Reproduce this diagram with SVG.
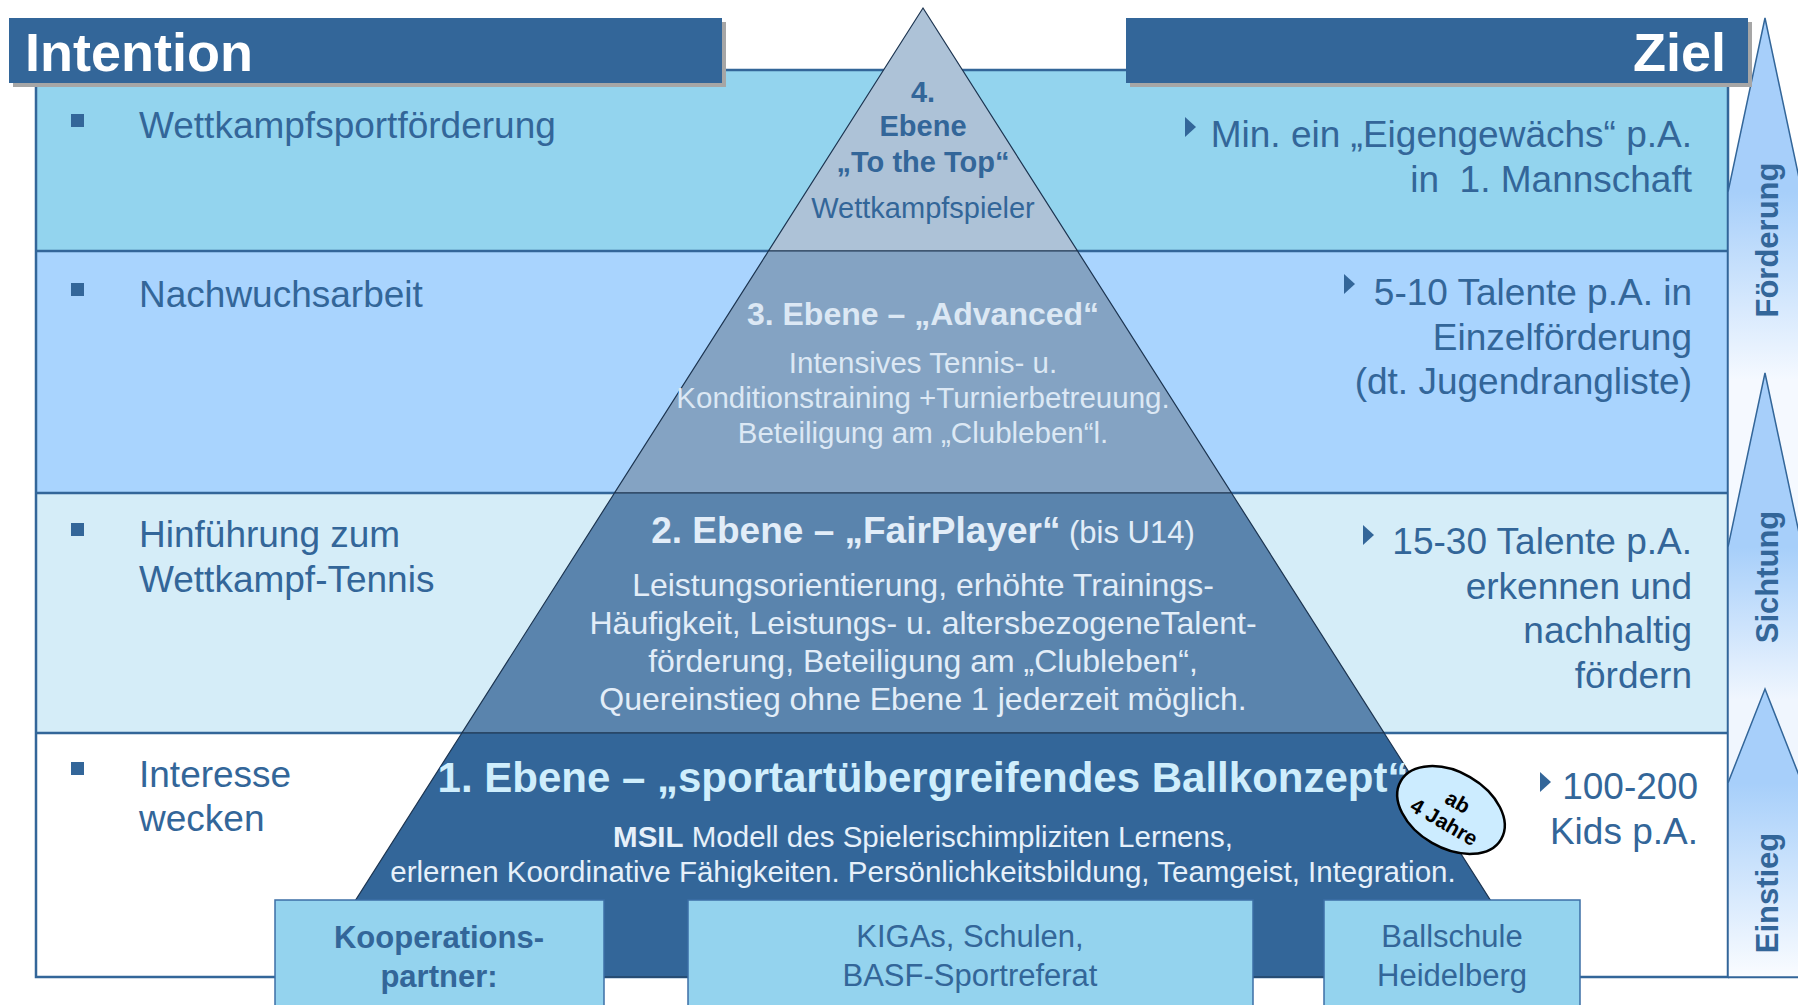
<svg xmlns="http://www.w3.org/2000/svg" width="1798" height="1005" viewBox="0 0 1798 1005">
<style>
text{font-family:"Liberation Sans",Arial,sans-serif}
.lt{font-size:37px;fill:#336699}
.rt{font-size:37px;fill:#336699;text-anchor:end}
.hd{font-size:54px;font-weight:bold;fill:#ffffff}
.c{text-anchor:middle}
.b{font-weight:bold}
.bul{fill:#336699}
.mk{fill:#336699}
.rowline{stroke:#336699;stroke-width:2.5;fill:none}
.pyr{stroke:#1c3450;stroke-width:1.2}
.box{fill:#94D3EE;stroke:#3d6fa6;stroke-width:1.5}
.bx{font-size:31px;fill:#336699;text-anchor:middle}
.arr{stroke:#336699;stroke-width:1.5}
.at{font-size:31px;font-weight:bold;fill:#336699;text-anchor:middle}
</style>
<defs>
<linearGradient id="g1" gradientUnits="userSpaceOnUse" x1="0" y1="192" x2="0" y2="380"><stop offset="0" stop-color="#A7CFFA"/><stop offset="1" stop-color="#F5F9FF"/></linearGradient>
<linearGradient id="g2" gradientUnits="userSpaceOnUse" x1="0" y1="547" x2="0" y2="700"><stop offset="0" stop-color="#A7CFFA"/><stop offset="1" stop-color="#F0F6FE"/></linearGradient>
<linearGradient id="g3" gradientUnits="userSpaceOnUse" x1="0" y1="783" x2="0" y2="977"><stop offset="0" stop-color="#A7CFFA"/><stop offset="1" stop-color="#FAFCFF"/></linearGradient>
</defs>

<g id="rows">
<rect x="36" y="70" width="1692" height="181" fill="#93D4EE"/>
<rect x="36" y="251" width="1692" height="242" fill="#A9D4FE"/>
<rect x="36" y="493" width="1692" height="240" fill="#D5EDF8"/>
<rect x="36" y="733" width="1692" height="244" fill="#FFFFFF"/>
<line class="rowline" x1="36" y1="251" x2="1728" y2="251"/>
<line class="rowline" x1="36" y1="493" x2="1728" y2="493"/>
<line class="rowline" x1="36" y1="733" x2="1728" y2="733"/>
<rect class="rowline" x="36" y="70" width="1692" height="907"/>
<line class="rowline" x1="1728" y1="977" x2="1798" y2="977"/>
</g>

<g id="arrows">
<polygon class="arr" fill="url(#g1)" points="1765,18 1802,192 1802,977 1728,977 1728,192"/>
<polygon class="arr" fill="url(#g2)" points="1765,373 1802,547 1802,977 1728,977 1728,547"/>
<polygon class="arr" fill="url(#g3)" points="1765,689 1802,783 1802,977 1728,977 1728,783"/>
<text class="at" transform="translate(1778,240) rotate(-90)">Förderung</text>
<text class="at" transform="translate(1778,577) rotate(-90)">Sichtung</text>
<text class="at" transform="translate(1778,893) rotate(-90)">Einstieg</text>
</g>

<g id="pyramid">
<polygon id="level4" class="pyr" fill="#ADC2D7" points="923,8 1077.5,251 768.5,251"/>
<polygon id="level3" class="pyr" fill="#84A3C3" points="768.5,251 1077.5,251 1231.5,493 614.5,493"/>
<polygon id="level2" class="pyr" fill="#5A84AD" points="614.5,493 1231.5,493 1384.1,733 461.9,733"/>
<polygon id="level1" class="pyr" fill="#336699" points="461.9,733 1384.1,733 1539.3,977 306.7,977"/>
</g>

<g id="header-intention">
<rect x="13" y="22" width="713" height="65" fill="#A6A6A6"/>
<rect x="9" y="18" width="713" height="65" fill="#336699"/>
<text class="hd" x="25" y="71">Intention</text>
</g>
<g id="header-ziel">
<rect x="1130" y="22" width="622" height="65" fill="#A6A6A6"/>
<rect x="1126" y="18" width="622" height="65" fill="#336699"/>
<text class="hd" x="1726" y="71" text-anchor="end">Ziel</text>
</g>

<g id="intentions">
<rect class="bul" x="71" y="114" width="13" height="13"/>
<text class="lt" x="139" y="138">Wettkampfsportförderung</text>
<rect class="bul" x="71" y="283" width="13" height="13"/>
<text class="lt" x="139" y="307">Nachwuchsarbeit</text>
<rect class="bul" x="71" y="523" width="13" height="13"/>
<text class="lt" x="139" y="547">Hinführung zum</text>
<text class="lt" x="139" y="592">Wettkampf-Tennis</text>
<rect class="bul" x="71" y="762" width="13" height="13"/>
<text class="lt" x="139" y="787">Interesse</text>
<text class="lt" x="139" y="831">wecken</text>
</g>

<g id="ziele">
<polygon class="mk" points="1185,117 1196,127 1185,137"/>
<text class="rt" x="1692" y="147">Min. ein „Eigengewächs“ p.A.</text>
<text class="rt" x="1692" y="192" xml:space="preserve">in  1. Mannschaft</text>
<polygon class="mk" points="1344,274 1355,284 1344,294"/>
<text class="rt" x="1692" y="305">5-10 Talente p.A. in</text>
<text class="rt" x="1692" y="350">Einzelförderung</text>
<text class="rt" x="1692" y="394">(dt. Jugendrangliste)</text>
<polygon class="mk" points="1363,525 1374,535 1363,545"/>
<text class="rt" x="1692" y="554">15-30 Talente p.A.</text>
<text class="rt" x="1692" y="599">erkennen und</text>
<text class="rt" x="1692" y="643">nachhaltig</text>
<text class="rt" x="1692" y="688">fördern</text>
<polygon class="mk" points="1540,772 1551,782 1540,792"/>
<text class="rt" x="1698" y="799">100-200</text>
<text class="rt" x="1698" y="844">Kids p.A.</text>
</g>

<g id="level-texts">
<text class="c b" x="923" y="102" font-size="29" fill="#336699">4.</text>
<text class="c b" x="923" y="136" font-size="29" fill="#336699">Ebene</text>
<text class="c b" x="923" y="172" font-size="29" fill="#336699">„To the Top“</text>
<text class="c" x="923" y="218" font-size="29" fill="#336699">Wettkampfspieler</text>

<text class="c b" x="923" y="325" font-size="32" fill="#DCE8F4">3. Ebene – „Advanced“</text>
<text class="c" x="923" y="373" font-size="29.5" fill="#DCE8F4">Intensives Tennis- u.</text>
<text class="c" x="923" y="408" font-size="29.5" fill="#DCE8F4">Konditionstraining +Turnierbetreuung.</text>
<text class="c" x="923" y="443" font-size="29.5" fill="#DCE8F4">Beteiligung am „Clubleben“l.</text>

<text class="c" x="923" y="543" fill="#E2EDF8"><tspan class="b" font-size="37">2. Ebene – „FairPlayer“</tspan><tspan font-size="31"> (bis U14)</tspan></text>
<text class="c" x="923" y="596" font-size="32" fill="#E2EDF8">Leistungsorientierung, erhöhte Trainings-</text>
<text class="c" x="923" y="634" font-size="32" fill="#E2EDF8">Häufigkeit, Leistungs- u. altersbezogeneTalent-</text>
<text class="c" x="923" y="672" font-size="32" fill="#E2EDF8">förderung, Beteiligung am „Clubleben“,</text>
<text class="c" x="923" y="710" font-size="32" fill="#E2EDF8">Quereinstieg ohne Ebene 1 jederzeit möglich.</text>

<text class="c b" x="923" y="792" font-size="42" fill="#CFEEFC">1. Ebene – „sportartübergreifendes Ballkonzept“</text>
<text class="c" x="923" y="847" font-size="29.5" fill="#E6F0FA"><tspan class="b">MSIL</tspan> Modell des Spielerischimpliziten Lernens,</text>
<text class="c" x="923" y="882" font-size="29.5" fill="#E6F0FA">erlernen Koordinative Fähigkeiten. Persönlichkeitsbildung, Teamgeist, Integration.</text>
</g>

<g id="badge" transform="translate(1451,810) rotate(30)">
<ellipse cx="0" cy="0" rx="58" ry="38" fill="#CCECFF" stroke="#000000" stroke-width="2.5"/>
<text class="c b" x="2" y="-3" font-size="21" fill="#000000">ab</text>
<text class="c b" x="0" y="21" font-size="21" fill="#000000">4 Jahre</text>
</g>

<g id="box-kooperation">
<rect class="box" x="275" y="900" width="329" height="115"/>
<text class="bx b" x="439" y="948">Kooperations-</text>
<text class="bx b" x="439" y="987">partner:</text>
</g>
<g id="box-kigas">
<rect class="box" x="688" y="900" width="565" height="115"/>
<text class="bx" x="970" y="947">KIGAs, Schulen,</text>
<text class="bx" x="970" y="986">BASF-Sportreferat</text>
</g>
<g id="box-ballschule">
<rect class="box" x="1324" y="900" width="256" height="115"/>
<text class="bx" x="1452" y="947">Ballschule</text>
<text class="bx" x="1452" y="986">Heidelberg</text>
</g>
</svg>
